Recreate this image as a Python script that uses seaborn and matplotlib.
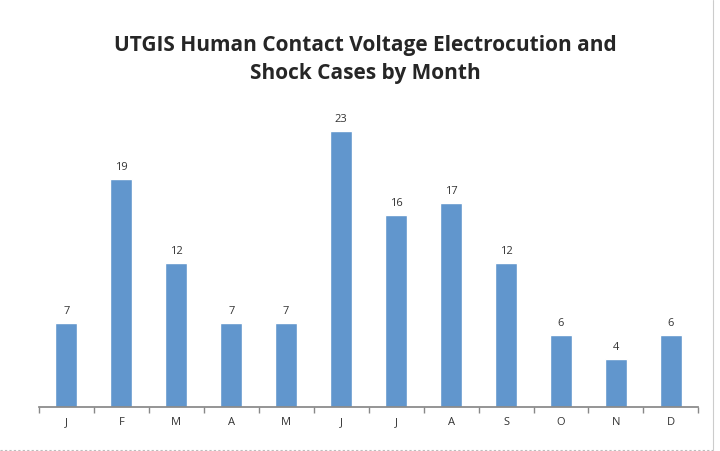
import matplotlib
matplotlib.use("Agg")
import matplotlib.pyplot as plt
import seaborn as sns
import pandas as pd
from matplotlib.lines import Line2D

months = ["J", "F", "M", "A", "M", "J", "J", "A", "S", "O", "N", "D"]
cases = [7, 19, 12, 7, 7, 23, 16, 17, 12, 6, 4, 6]

sns.set_theme(style="white")
plt.rcParams['font.family'] = ['Open Sans', 'DejaVu Sans']

df = pd.DataFrame({"pos": range(len(months)), "month": months, "cases": cases})
fig = plt.figure(figsize=(7.2, 4.51), dpi=100)
ax = fig.add_axes([0.054, 0.0976, 0.916, 0.665])
sns.barplot(data=df, x="pos", y="cases", color="#6196cd", width=0.4, ax=ax, saturation=1)
ax.set_xticks(range(len(months)))
ax.set_xticklabels(months, fontsize=8, color="#333333")
ax.set_ylim(0, 25)
ax.set_xlim(-0.5, 11.5)
ax.set_yticks([])
ax.set_xlabel("")
ax.set_ylabel("")
for s in ["top", "right", "left"]:
    ax.spines[s].set_visible(False)
ax.spines["bottom"].set_color("#888888")
for i, v in enumerate(cases):
    ax.text(i, v + 0.5, str(v), ha="center", va="bottom", fontsize=8, color="#333333")
ax.set_xticks([i - 0.5 for i in range(13)], minor=True)
ax.tick_params(axis="x", which="minor", length=4, color="#888888", bottom=True)
ax.tick_params(axis="x", which="major", length=0, pad=7)
fig.text(0.507, 0.868, "UTGIS Human Contact Voltage Electrocution and\nShock Cases by Month",
         ha="center", va="center", fontsize=15, fontweight="bold", linespacing=1.4)
fig.add_artist(Line2D([0.0, 0.99], [0.003, 0.003], transform=fig.transFigure,
                      color="#bbbbbb", linestyle=(0, (2, 2)), linewidth=0.8))
fig.add_artist(Line2D([0.99, 0.99], [0.003, 1.0], transform=fig.transFigure,
                      color="#cccccc", linewidth=0.8))
fig.savefig("out.png", dpi=100)
